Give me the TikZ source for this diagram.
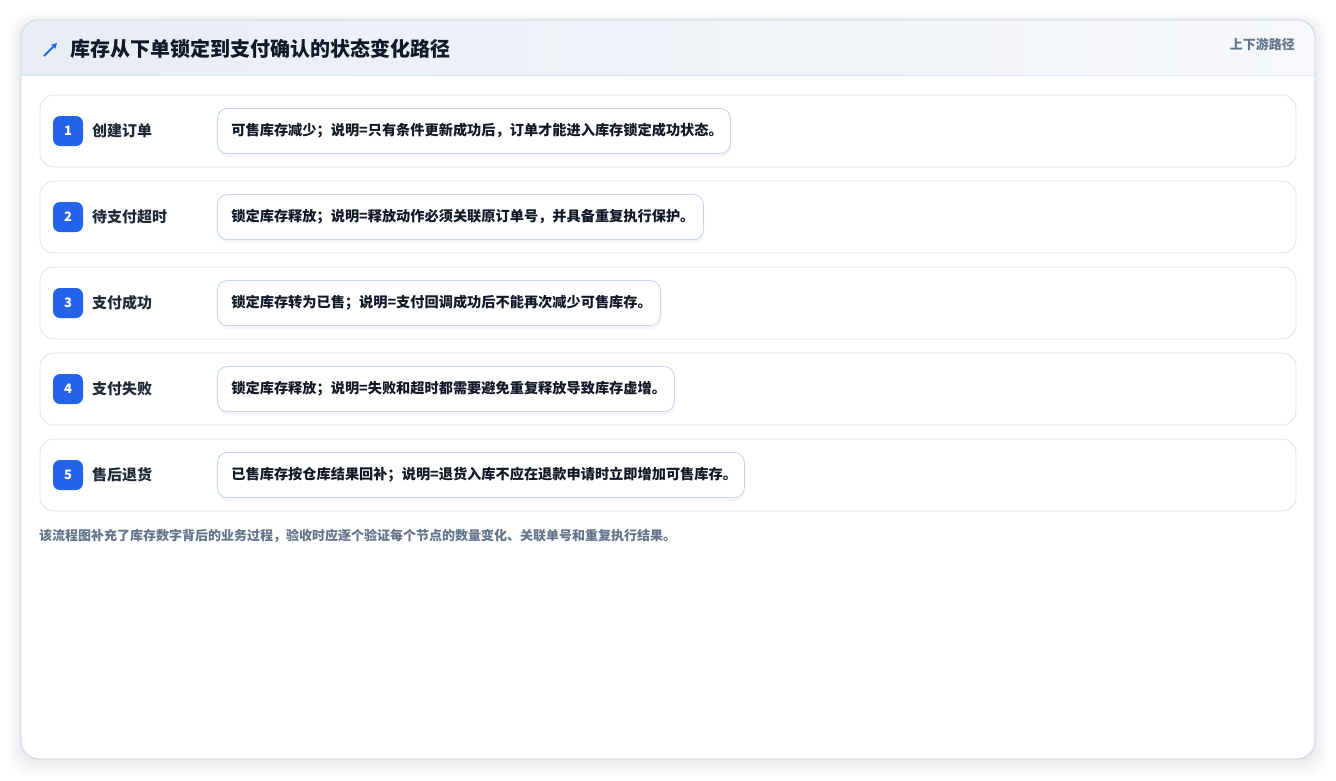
\documentclass[tikz,border=0pt]{standalone}
\usepackage{fontspec}
\setmainfont{Noto Sans CJK SC}
\usetikzlibrary{arrows.meta}

\definecolor{badgeblue}{HTML}{2563EB}
\definecolor{titletext}{HTML}{111827}
\definecolor{labeltext}{HTML}{1F2937}
\definecolor{desctext}{HTML}{111827}
\definecolor{graytext}{HTML}{64748B}
\definecolor{rowline}{HTML}{D9E4F4}
\definecolor{descline}{HTML}{C5D6EE}
\definecolor{cardline}{HTML}{CFD6E1}
\definecolor{headleft}{HTML}{E8EDF5}
\definecolor{headright}{HTML}{F6F8FB}
\definecolor{headline}{HTML}{DCE6F5}
\definecolor{shadowgray}{HTML}{5A6070}

\tikzset{
  rowbox/.style={draw=rowline, fill=white, rounded corners=14pt, line width=0.8pt,
    minimum width=1256pt, minimum height=72pt, inner sep=0pt},
  badge/.style={fill=badgeblue, rounded corners=7pt, minimum size=30pt, inner sep=0pt,
    text=white, font=\bfseries\fontsize{13}{13}\selectfont},
  steplabel/.style={anchor=west, inner sep=0pt, text=labeltext,
    font=\bfseries\fontsize{15}{17}\selectfont},
  descbox/.style={draw=descline, fill=white, rounded corners=10pt, line width=0.8pt,
    minimum height=45pt, anchor=west, inner xsep=14pt, inner ysep=0pt, align=left,
    text=desctext, font=\bfseries\fontsize{14.2}{16}\selectfont},
  softshade/.style={fill=shadowgray, opacity=#1, rounded corners=20pt}
}

\begin{document}
\begin{tikzpicture}[x=1pt, y=-1pt]

\useasboundingbox (0,0) rectangle (1336,780);

% card shadow
\fill[softshade=0.025] (9,14) rectangle (1327,776);
\fill[softshade=0.03] (13,16) rectangle (1323,772);
\fill[softshade=0.035] (16,18) rectangle (1320,768);
\fill[softshade=0.04] (19,19) rectangle (1317,763);

% card and header
\draw[draw=cardline, fill=white, rounded corners=18pt] (21,20) rectangle (1315,759);
\begin{scope}
\clip[rounded corners=18pt] (21,20) rectangle (1315,759);
\shade[left color=headleft, right color=headright] (21,20) rectangle (1315,75);
\end{scope}
\draw[headline, line width=0.8pt] (21,75) -- (1315,75);
\draw[cardline, line width=0.8pt, rounded corners=18pt] (21,20) rectangle (1315,759);

\draw[badgeblue, line width=1.8pt, -{Stealth[length=6pt, width=6.5pt]}] (44,56) -- (57,43);
\node[anchor=west, inner sep=0pt, text=titletext, font=\bfseries\fontsize{20}{23}\selectfont]
  (title) at (70,49) {库存从下单锁定到支付确认的状态变化路径};
\node[anchor=east, inner sep=0pt, text=graytext, font=\bfseries\fontsize{13}{15}\selectfont]
  (tag) at (1295,44) {上下游路径};

% step 1
\node[rowbox] (row1) at (668,131) {};
\node[badge] (badge1) at (68,131) {1};
\node[steplabel] (label1) at (92,131) {创建订单};
\fill[softshade=0.06, rounded corners=10pt] (218,112) rectangle (731,157);
\node[descbox, text width=485pt] (desc1) at (217,131)
  {可售库存减少；说明=只有条件更新成功后，订单才能进入库存锁定成功状态。};

% step 2
\node[rowbox] (row2) at (668,217) {};
\node[badge] (badge2) at (68,217) {2};
\node[steplabel] (label2) at (92,217) {待支付超时};
\fill[softshade=0.06, rounded corners=10pt] (218,198) rectangle (704,243);
\node[descbox, text width=458pt] (desc2) at (217,217)
  {锁定库存释放；说明=释放动作必须关联原订单号，并具备重复执行保护。};

% step 3
\node[rowbox] (row3) at (668,303) {};
\node[badge] (badge3) at (68,303) {3};
\node[steplabel] (label3) at (92,303) {支付成功};
\fill[softshade=0.06, rounded corners=10pt] (218,284) rectangle (661,329);
\node[descbox, text width=415pt] (desc3) at (217,303)
  {锁定库存转为已售；说明=支付回调成功后不能再次减少可售库存。};

% step 4
\node[rowbox] (row4) at (668,389) {};
\node[badge] (badge4) at (68,389) {4};
\node[steplabel] (label4) at (92,389) {支付失败};
\fill[softshade=0.06, rounded corners=10pt] (218,370) rectangle (675,415);
\node[descbox, text width=429pt] (desc4) at (217,389)
  {锁定库存释放；说明=失败和超时都需要避免重复释放导致库存虚增。};

% step 5
\node[rowbox] (row5) at (668,475) {};
\node[badge] (badge5) at (68,475) {5};
\node[steplabel] (label5) at (92,475) {售后退货};
\fill[softshade=0.06, rounded corners=10pt] (218,456) rectangle (745,501);
\node[descbox, text width=499pt] (desc5) at (217,475)
  {已售库存按仓库结果回补；说明=退货入库不应在退款申请时立即增加可售库存。};

\node[anchor=west, inner sep=0pt, text=graytext, font=\bfseries\fontsize{13}{15}\selectfont]
  (note) at (39,536) {该流程图补充了库存数字背后的业务过程，验收时应逐个验证每个节点的数量变化、关联单号和重复执行结果。};

\end{tikzpicture}
\end{document}
